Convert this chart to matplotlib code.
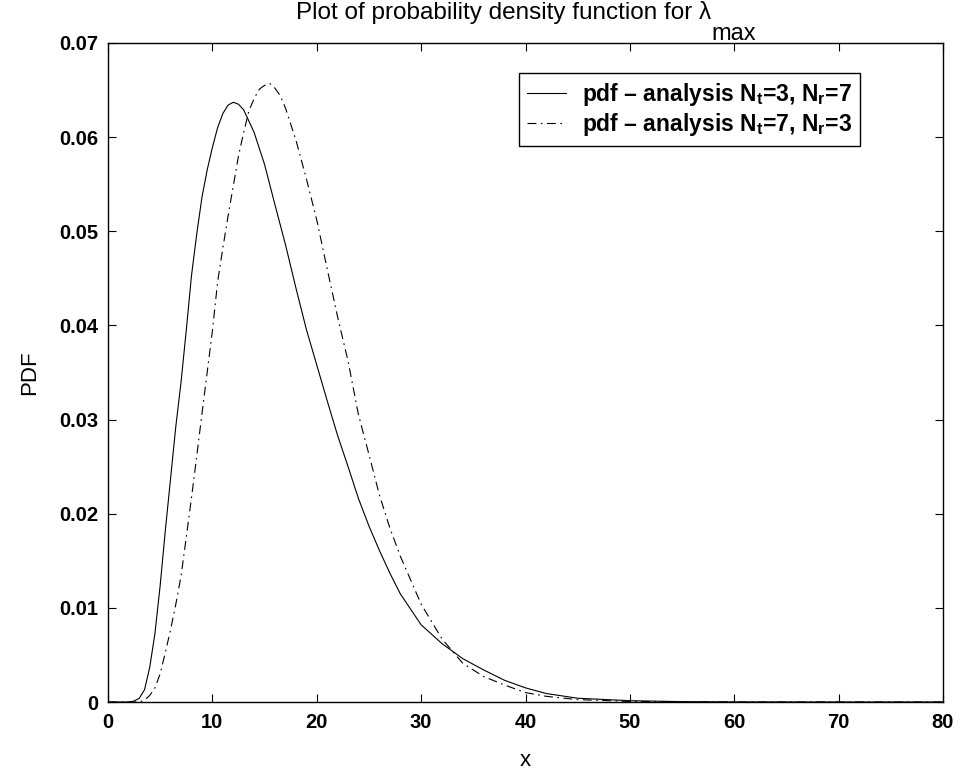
import matplotlib
matplotlib.use("Agg")
import matplotlib.pyplot as plt
import numpy as np

plt.rcParams['font.family'] = ['Liberation Sans', 'DejaVu Sans']
plt.rcParams['mathtext.fontset'] = 'custom'
plt.rcParams['mathtext.rm'] = 'Liberation Sans'
plt.rcParams['mathtext.bf'] = 'Liberation Sans:bold'
plt.rcParams['mathtext.it'] = 'Liberation Sans:italic'

# ---- data ----
x_37 = [0, 2, 2.5, 3, 3.5, 4, 4.5, 5, 5.5, 6, 6.5, 7, 7.5, 8, 8.5, 9, 9.5, 10, 10.5,
        11, 11.5, 12, 12.5, 13, 14, 15, 16, 17, 18, 19, 20, 21, 22, 23, 24, 25, 26,
        27, 28, 30, 32, 34, 36, 38, 40, 42, 45, 50, 55, 60, 70, 80]
pdf_37 = [0, 0, 0.0001, 0.0004, 0.0013, 0.0037, 0.0073, 0.0124, 0.0183, 0.0238,
          0.0293, 0.0340, 0.0395, 0.0453, 0.0497, 0.0536, 0.0565, 0.0589, 0.0610,
          0.0625, 0.0634, 0.0637, 0.0635, 0.0629, 0.0605, 0.0571, 0.0528, 0.0486,
          0.0440, 0.0396, 0.0358, 0.0320, 0.0283, 0.0250, 0.0216, 0.0187, 0.0161,
          0.0137, 0.0115, 0.0082, 0.0062, 0.0046, 0.0034, 0.0023, 0.0015, 0.0009,
          0.0004, 0.00014, 0.00004, 0.00001, 0, 0]

x_73 = [0, 3, 3.5, 4, 4.5, 5, 5.5, 6, 6.5, 7, 7.5, 8, 8.5, 9, 9.5, 10, 10.5, 11, 11.5,
        12, 12.5, 13, 13.5, 14, 14.5, 15, 15.5, 16, 16.5, 17, 18, 19, 20, 21, 22, 23,
        24, 25, 26, 27, 28, 30, 32, 34, 36, 38, 40, 42, 45, 50, 55, 60, 70, 80]
pdf_73 = [0, 0, 0.0002, 0.0007, 0.0015, 0.0030, 0.0053, 0.0077, 0.0104, 0.0134,
          0.0175, 0.0217, 0.0261, 0.0306, 0.0350, 0.0394, 0.0446, 0.0482, 0.0516,
          0.0548, 0.0580, 0.0605, 0.0628, 0.0641, 0.0651, 0.0655, 0.0657, 0.0652,
          0.0644, 0.0631, 0.0597, 0.0556, 0.0512, 0.0460, 0.0409, 0.0362, 0.0305,
          0.0263, 0.0220, 0.0185, 0.0155, 0.0104, 0.0067, 0.0041, 0.0027, 0.0018,
          0.0010, 0.0006, 0.00025, 0.00006, 0.00001, 0, 0, 0]

labels = [r"pdf – analysis $\mathbf{N_t}$=3, $\mathbf{N_r}$=7",
          r"pdf – analysis $\mathbf{N_t}$=7, $\mathbf{N_r}$=3"]
xticks = [0, 10, 20, 30, 40, 50, 60, 70, 80]
yticks = [0, 0.01, 0.02, 0.03, 0.04, 0.05, 0.06, 0.07]
ytick_labels = ["0", "0.01", "0.02", "0.03", "0.04", "0.05", "0.06", "0.07"]

W, H = 964, 778
fig = plt.figure(figsize=(W / 100, H / 100), dpi=100)
L, R, T, B = 108, 943, 43, 702
ax = fig.add_axes([L / W, 1 - B / H, (R - L) / W, (B - T) / H])

ax.plot(x_37, pdf_37, color='black', lw=0.8, label=labels[0])
l2, = ax.plot(x_73, pdf_73, color='black', lw=0.8, label=labels[1])
l2.set_dashes([8, 4, 1.5, 4])

ax.set_xlim(0, 80)
ax.set_ylim(0, 0.07)
ax.set_xticks(xticks)
ax.set_xticklabels([str(v) for v in xticks])
ax.set_yticks(yticks)
ax.set_yticklabels(ytick_labels)
ax.tick_params(direction='in', length=6, width=0.8, top=True, right=True,
               labelsize=14.5)
ax.tick_params(axis='x', pad=8)
ax.tick_params(axis='y', pad=7)
for lab in ax.get_xticklabels() + ax.get_yticklabels():
    lab.set_fontweight('bold')
for s in ax.spines.values():
    s.set_linewidth(1.0)

ax.set_xlabel("x", fontsize=16)
ax.set_ylabel("PDF", fontsize=16)
ax.xaxis.set_label_coords(0.5, -(750 - B) / (B - T), transform=ax.transAxes)
ax.yaxis.set_label_coords(-(L - 40) / (R - L), 0.5, transform=ax.transAxes)

leg = ax.legend(loc='upper right', bbox_to_anchor=((860 - L) / (R - L), (B - 73) / (B - T)),
                prop={'weight': 'bold', 'size': 16.5}, frameon=True, fancybox=False,
                edgecolor='black', framealpha=1, handlelength=1.7, handletextpad=0.7,
                borderpad=0.35, labelspacing=0.15, borderaxespad=0)
leg.get_frame().set_linewidth(1.0)

# title with a deep subscript, as in the reference
t1 = fig.text(0, 0, "Plot of probability density function for λ", fontsize=17.5,
              va='baseline', ha='left')
t2 = fig.text(0, 0, "max", fontsize=17, va='baseline', ha='left')
fig.canvas.draw()
r = fig.canvas.get_renderer()
w1 = t1.get_window_extent(r).width
w2 = t2.get_window_extent(r).width
x0 = (L + R) / 2 - (w1 + w2) / 2
t1.set_position((x0 / W, 1 - 19 / H))
t2.set_position(((x0 + w1 + 1) / W, 1 - 40 / H))

fig.savefig("out.png", dpi=100)
